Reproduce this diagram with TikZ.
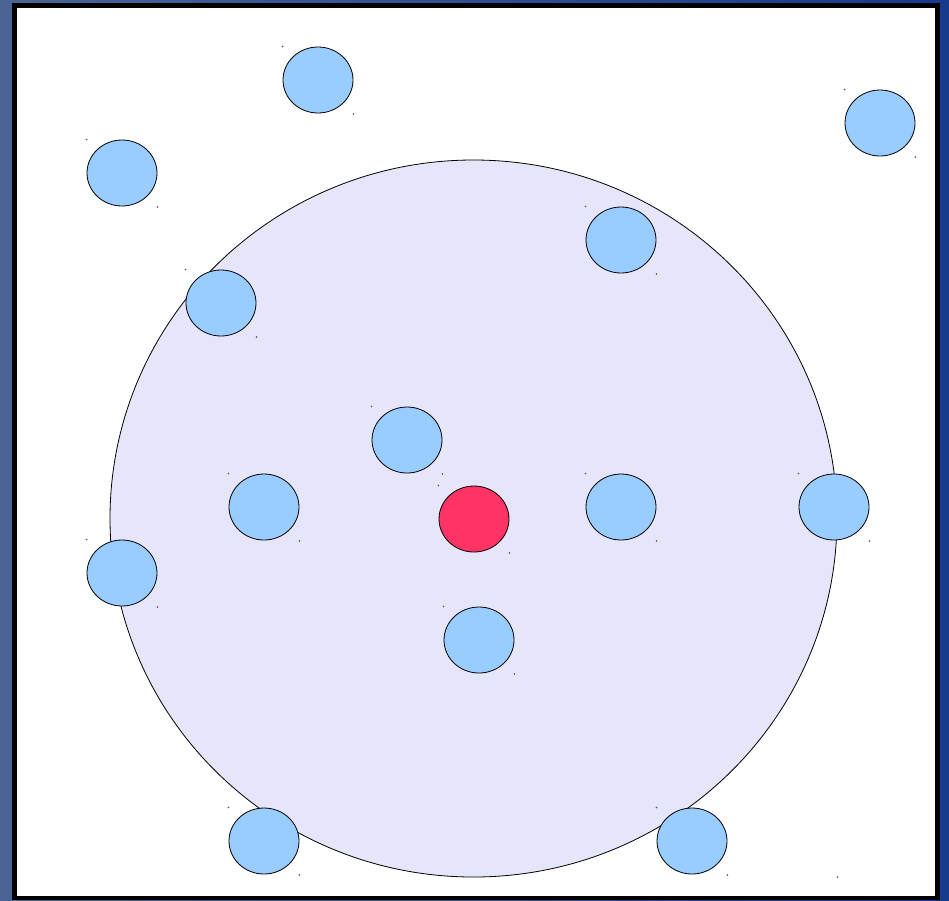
\documentclass[tikz,border=0pt]{standalone}
\begin{document}
\begin{tikzpicture}[x=0.75pt,y=-0.75pt,
  bubble/.style={draw=black,line width=0.6pt,fill=bubblefill},
  speck/.style={fill=black!70}]
\definecolor{bubblefill}{RGB}{153,204,255}
\definecolor{hotfill}{RGB}{255,51,102}
\definecolor{rangefill}{RGB}{230,230,250}
\definecolor{frameleft}{RGB}{74,100,148}
\definecolor{frameright}{RGB}{22,58,140}
\useasboundingbox (0,0) rectangle (949,900);
% backdrop
\shade[left color=frameleft,right color=frameright] (0,0) rectangle (949,900);
\fill[black] (12,3) rectangle (940,900);
\fill[white] (17,8) rectangle (935,896);
% range circle
\draw[fill=rangefill,line width=0.6pt] (473.5,518.5) ellipse [x radius=363.5,y radius=358.5];
\fill[black!70] (837.5,877) circle [radius=0.9];
% small circles
\foreach \cx/\cy in {318/80,122/173,880/123,621/240,221/303,407/440,264/507,621/507,834/507,122/573,479/640,264/841,692/841}{
  \draw[bubble] (\cx,\cy) ellipse [x radius=35,y radius=33];
  \fill[speck] (\cx-35.5,\cy-33.5) circle [radius=0.8];
  \fill[speck] (\cx+35.5,\cy+34) circle [radius=0.8];
}
% central node
\draw[bubble,fill=hotfill] (474,519) ellipse [x radius=35,y radius=33];
\fill[speck] (438.5,485.5) circle [radius=0.8];
\fill[speck] (509.5,553) circle [radius=0.8];
\end{tikzpicture}
\end{document}
